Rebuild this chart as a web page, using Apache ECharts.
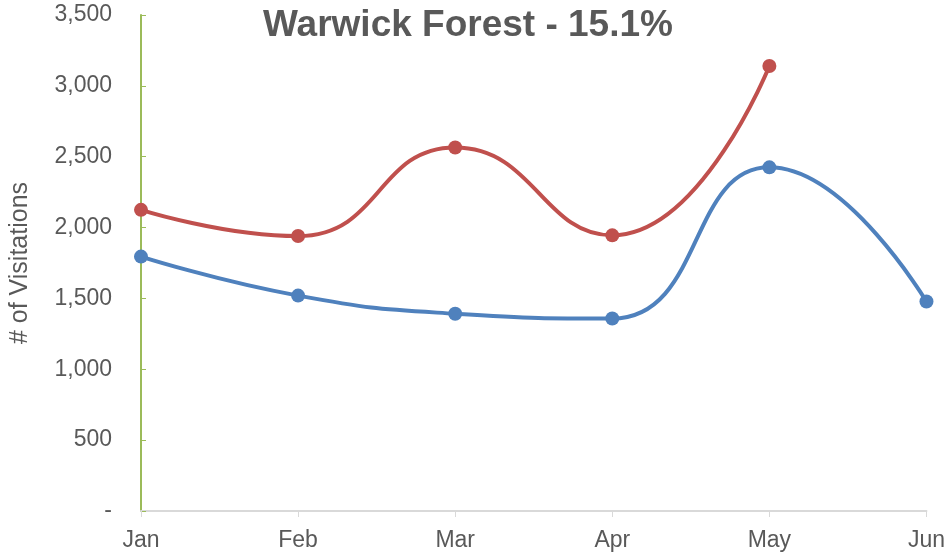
<!DOCTYPE html>
<html><head><meta charset="utf-8">
<script src="https://cdn.jsdelivr.net/npm/echarts@6/dist/echarts.min.js"></script>
<style>html,body{margin:0;padding:0;background:#fff}#c{width:948px;height:556px}</style>
</head><body><div id="c"></div>
<script>
const categories = ['Jan','Feb','Mar','Apr','May','Jun'];
const seriesRed = [2125, 1940, 2565, 1945, 3140, null];
const seriesBlue = [1795, 1520, 1392, 1358, 2425, 1478];
const yTicks = {min: 0, max: 3500, interval: 500};
const titleText = 'Warwick Forest - 15.1%';
const yName = '# of Visitations';

const chart = echarts.init(document.getElementById('c'), null, {renderer: 'canvas'});
const font = 'Liberation Sans, Arial, sans-serif';
chart.setOption({
  animation: false,
  title: {text: titleText, left: 463, top: 2, textAlign: 'center',
    textStyle: {fontFamily: font, fontSize: 37, fontWeight: 'bold', color: '#595959'}},
  grid: {left: 141, right: 20, top: 15, bottom: 45},
  xAxis: {type: 'category', data: categories, boundaryGap: false,
    axisLine: {lineStyle: {color: '#d9d9d9', width: 2}},
    axisTick: {show: true, length: 6, lineStyle: {color: '#d9d9d9', width: 1}},
    axisLabel: {fontFamily: font, fontSize: 23, color: '#595959', margin: 18}},
  yAxis: {type: 'value', min: yTicks.min, max: yTicks.max, interval: yTicks.interval,
    name: yName, nameLocation: 'middle', nameGap: 108,
    nameTextStyle: {fontFamily: font, fontSize: 25, color: '#595959'},
    axisLine: {show: true, lineStyle: {color: '#9bbb59', width: 2}},
    axisTick: {show: true, inside: true, length: 5, lineStyle: {color: '#9bbb59', width: 1}},
    splitLine: {show: false},
    axisLabel: {fontFamily: font, fontSize: 23, color: '#595959', margin: 29,
      formatter: v => v === 0 ? '-' : v.toLocaleString('en-US')}},
  series: [
    {type: 'line', data: seriesRed, smooth: 0.5, symbol: 'circle', symbolSize: 14,
      lineStyle: {color: '#c0504d', width: 4}, itemStyle: {color: '#c0504d'}},
    {type: 'line', data: seriesBlue, smooth: 0.5, symbol: 'circle', symbolSize: 14,
      lineStyle: {color: '#4f81bd', width: 4}, itemStyle: {color: '#4f81bd'}}
  ]
});
</script></body></html>
